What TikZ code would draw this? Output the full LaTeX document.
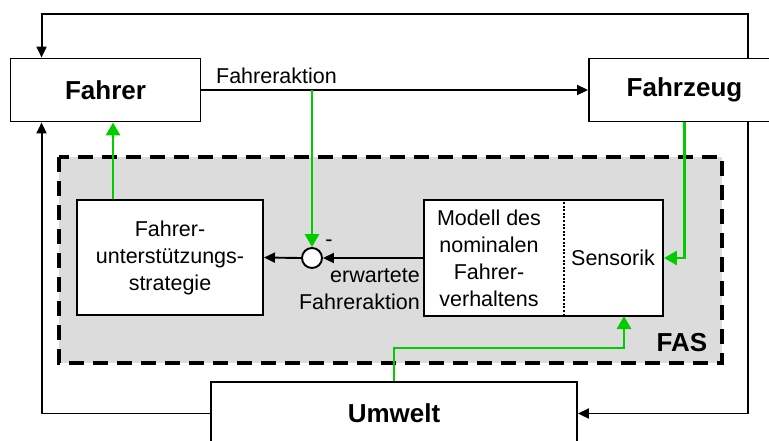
\documentclass[tikz,border=0pt]{standalone}
\usepackage{fontspec}
\setmainfont{Liberation Sans}
\usetikzlibrary{arrows.meta}
\definecolor{fasbg}{RGB}{220,220,220}
\definecolor{sig}{RGB}{0,204,0}
\tikzset{
  block/.style={draw, line width=1.9pt, fill=white, inner sep=0pt},
  mainblock/.style={block, font=\fontsize{26}{30}\selectfont\bfseries},
  txt/.style={font=\fontsize{21.5}{27}\selectfont},
  blk/.style={line width=1.9pt, -{Triangle[length=11pt,width=10pt]}},
  grn/.style={draw=sig, line width=2.8pt, -{Triangle[length=13pt,width=14pt]}, color=sig},
  fasframe/.style={fill=fasbg, line width=4pt, dash pattern=on 15pt off 9pt},
}
\begin{document}
\begin{tikzpicture}[x=1pt,y=-1pt]
\useasboundingbox (0,0) rectangle (769,440);

% assistance system frame
\draw[fasframe] (59,157) rectangle (722,363);
\node[font=\fontsize{26}{30}\selectfont\bfseries, anchor=base] (fas) at (682,351) {FAS};

% main blocks
\node[mainblock, minimum width=190pt, minimum height=63pt] (fahrer) at (105.5,90) {Fahrer};
\node[mainblock, minimum width=191pt, minimum height=63pt] (fahrzeug) at (684.5,90) {Fahrzeug};
\node[mainblock, minimum width=366pt, minimum height=63pt] (umwelt) at (394,413.5) {Umwelt};

% inner blocks
\node[block, txt, align=center, minimum width=186pt, minimum height=115pt] (strat) at (170,257.5)
  {Fahrer-\\unterstützungs-\\strategie};
\node[block, minimum width=239pt, minimum height=116pt] (model) at (543.5,258) {};
\draw[line width=2.4pt, dash pattern=on 2pt off 1.6pt] (564,202) -- (564,314);
\node[txt, align=center] (modtxt) at (489,258) {Modell des\\nominalen\\Fahrer-\\verhaltens};
\node[txt] (sens) at (613,258) {Sensorik};

% comparison point
\node[draw, circle, line width=1.9pt, fill=white, minimum size=20pt, inner sep=0pt] (sum) at (312,258) {};
\node[txt, anchor=base] (minus) at (329,246) {-};
\node[txt, align=right, anchor=north east, inner sep=0pt] (erw) at (420,268) {erwartete\\Fahreraktion};

% driver action
\draw[blk] (fahrer) -- (fahrzeug);
\node[txt, anchor=base] (fa) at (276.5,83) {Fahreraktion};
\coordinate (tap) at (312,90);
\draw[grn] (tap) -- (sum.north);

\draw[blk] (model.west) -- (sum.east);
\draw[blk] (sum.west) -- (strat.east);

% outer feedback loops
\coordinate (tr) at (748,14);
\draw[blk] (fahrzeug.north -| tr) -- (tr) -| ([xshift=32pt]fahrer.north west);
\draw[blk] (fahrzeug.south -| tr) |- (umwelt.east);
\draw[blk] (umwelt.west) -| ([xshift=32pt]fahrer.south west);

% sensor and support signals
\draw[grn] (fahrzeug.south) |- (model.east);
\coordinate (senin) at (624,316);
\draw[grn] (umwelt.north) -- ++(0,-33) -| (senin);
\draw[grn] ([xshift=37pt]strat.north west) -- ([xshift=37pt]strat.north west |- fahrer.south);
\end{tikzpicture}
\end{document}
